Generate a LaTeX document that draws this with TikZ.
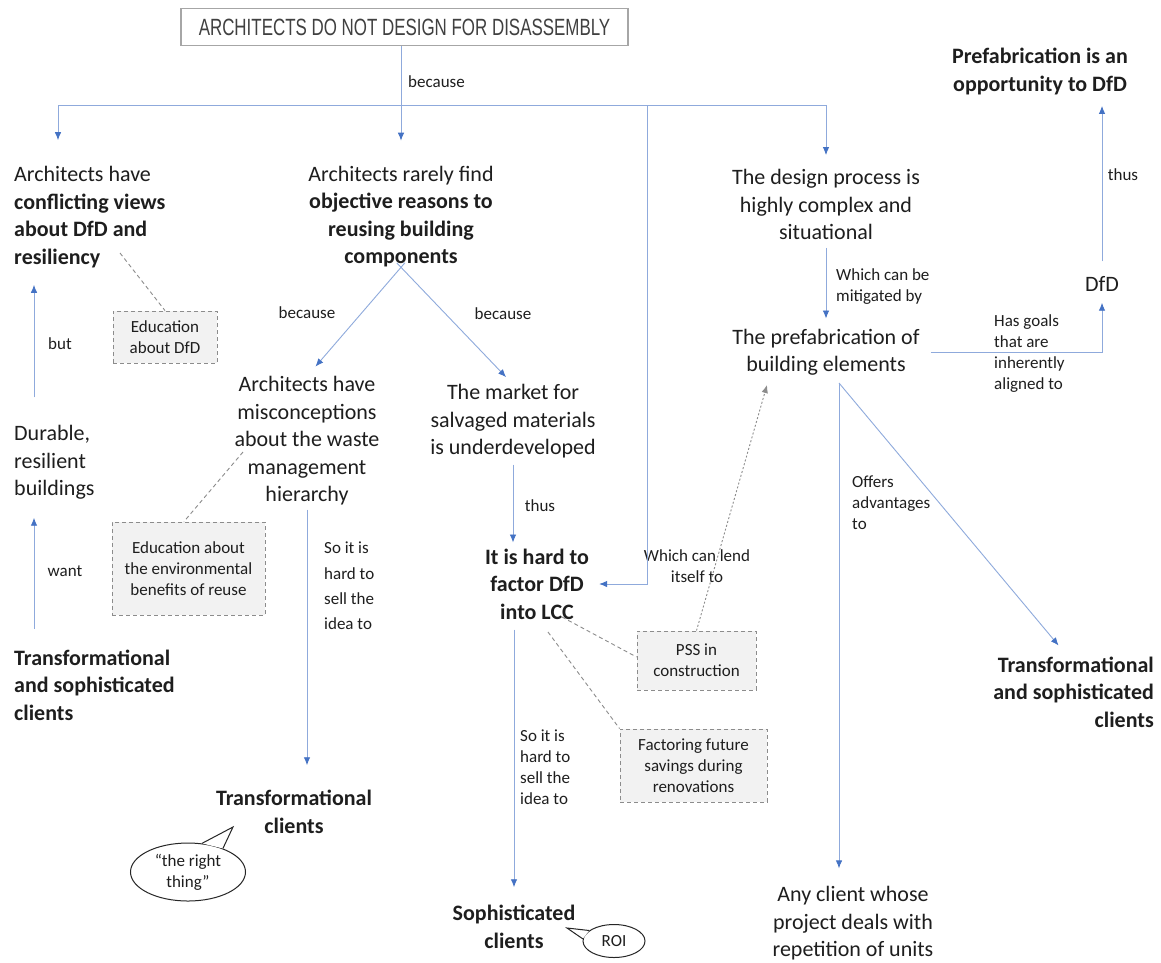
\documentclass[tikz,border=0pt]{standalone}
\usepackage{fontspec}
\setmainfont{Carlito}
\newfontfamily\titlefont[FakeStretch=0.72]{Liberation Sans}
\usetikzlibrary{arrows.meta,shapes.geometric,calc}

\definecolor{lineblue}{HTML}{8FAADC}
\definecolor{tipblue}{HTML}{4472C4}
\definecolor{textc}{HTML}{1E1E1E}
\definecolor{boxgray}{HTML}{8C8C8C}
\definecolor{boxfill}{HTML}{F2F2F2}
\definecolor{framegray}{HTML}{A6A6A6}

\begin{document}
\begin{tikzpicture}[x=1pt,y=-1pt,
  big/.style={font=\fontsize{22}{27.5}\selectfont, inner sep=0pt, align=center, text=textc},
  bigL/.style={big, align=left, anchor=west},
  bigR/.style={big, align=right, anchor=east},
  lab/.style={font=\fontsize{17}{21}\selectfont, inner sep=0pt, align=left, text=textc},
  notebox/.style={draw=boxgray, dash pattern=on 4pt off 3pt, fill=boxfill, line width=0.9pt,
    font=\fontsize{17}{21}\selectfont, align=center, inner sep=0pt, text=textc},
  bubble/.style={ellipse, draw=black!85, line width=1pt, fill=white, inner sep=0pt,
    font=\fontsize{17}{21}\selectfont, align=center, text=textc},
  link/.style={draw=lineblue, line width=0.9pt},
  arr/.style={link, -{Latex[length=8pt,width=6.5pt,color=tipblue]}},
  note/.style={draw=boxgray, line width=0.9pt, dash pattern=on 4pt off 3pt},
  hint/.style={draw=boxgray, line width=0.9pt, dash pattern=on 2pt off 2pt,
    -{Latex[length=8pt,width=6.5pt,color=boxgray]}}
]
\path[use as bounding box, fill=white] (0,0) rectangle (1161,962);

% ---------- heading ----------
\node[draw=framegray, line width=1.2pt, minimum width=447pt, minimum height=37pt, inner sep=0pt,
  font=\titlefont\fontsize{23.5}{26}\selectfont, text=textc!85] (title) at (404.5,27)
  {ARCHITECTS DO NOT DESIGN FOR DISASSEMBLY};

% ---------- main statements ----------
\node[bigL] (conf) at (14,217) {Architects have\\\textbf{conflicting views}\\\textbf{about DfD and}\\\textbf{resiliency}};
\node[big] (rare) at (401,216.5) {Architects rarely find\\\textbf{objective reasons to}\\\textbf{reusing building}\\\textbf{components}};
\node[big] (design) at (826,204.5) {The design process is\\highly complex and\\situational};
\node[bigL] (durable) at (14,462.5) {Durable,\\resilient\\buildings};
\node[bigL, font=\bfseries\fontsize{22}{27.5}\selectfont] (tsc1) at (14,685) {Transformational\\and sophisticated\\clients};
\node[big] (misc) at (307,441) {Architects have\\misconceptions\\about the waste\\management\\hierarchy};
\node[big] (market) at (513,421.5) {The market for\\salvaged materials\\is underdeveloped};
\node[big, font=\bfseries\fontsize{22}{27.5}\selectfont] (lcc) at (537,584) {It is hard to\\factor DfD\\into LCC};
\node[big, font=\bfseries\fontsize{22}{27.5}\selectfont] (tcl) at (294,812) {Transformational\\clients};
\node[big, font=\bfseries\fontsize{22}{27.5}\selectfont] (soph) at (514,927) {Sophisticated\\clients};
\node[big] (prefab) at (826,352) {The prefabrication of\\building elements};
\node[big] (dfd) at (1102,284) {DfD};
\node[big, font=\bfseries\fontsize{22}{27.5}\selectfont] (opp) at (1040,71.5) {Prefabrication is an\\opportunity to DfD};
\node[bigR, font=\bfseries\fontsize{22}{27.5}\selectfont] (tsc2) at (1154,692) {Transformational\\and sophisticated\\clients};
\node[big] (any) at (853,923.5) {Any client whose\\project deals with\\repetition of units};

% ---------- annotation boxes ----------
\node[notebox, minimum width=104pt, minimum height=52pt] (edu1) at (165,337) {Education\\about DfD};
\node[notebox, minimum width=153pt, minimum height=93pt] (edu2) at (188.5,568.5) {Education about\\the environmental\\benefits of reuse};
\node[notebox, minimum width=119pt, minimum height=59pt] (pss) at (696.5,660.5) {PSS in\\construction};
\node[notebox, minimum width=147pt, minimum height=73pt] (fut) at (693.5,765.5) {Factoring future\\savings during\\renovations};

% ---------- speech bubbles ----------
\node[bubble, minimum width=115pt, minimum height=58pt] (bub1) at (188,872) {“the right\\thing”};
\coordinate (tip1) at (233,827);
\fill[white] (bub1.64) -- (tip1) -- (bub1.34) -- cycle;
\draw[black!85, line width=1pt, line join=miter] (bub1.64) -- (tip1) -- (bub1.34);

\node[bubble, minimum width=62pt, minimum height=33pt] (bub2) at (614,941) {ROI};
\coordinate (tip2) at (567,928);
\fill[white] (bub2.157) -- (tip2) -- (bub2.176) -- cycle;
\draw[black!85, line width=1pt, line join=miter] (bub2.157) -- (tip2) -- (bub2.176);

% ---------- connector labels ----------
\node[lab, anchor=west] (lbecause) at (408,82) {because};
\node[lab] (lbut) at (60,344) {but};
\node[lab] (lwant) at (65,571) {want};
\node[lab] (lbc1) at (307,313) {because};
\node[lab] (lbc2) at (503,314) {because};
\node[lab, anchor=west, font=\fontsize{17}{25.3}\selectfont] (lsell1) at (324,586) {So it is\\hard to\\sell the\\idea to};
\node[lab] (lthus1) at (540,506) {thus};
\node[lab, anchor=west] (lsell2) at (520,767.5) {So it is\\hard to\\sell the\\idea to};
\node[lab, align=center] (llend) at (697,566) {Which can lend\\itself to};
\node[lab, anchor=west] (lmit) at (836,287) {Which can be\\mitigated by};
\node[lab, anchor=west] (lgoals) at (994,353.5) {Has goals\\that are\\inherently\\aligned to};
\node[lab] (lthus2) at (1123,175) {thus};
\node[lab, anchor=west] (loffers) at (852,502.5) {Offers\\advantages\\to};

% ---------- junction points ----------
\coordinate (hub) at (401,105);
\coordinate (hl) at (58,105);
\coordinate (hm) at (647,105);
\coordinate (hr) at (826,105);
\coordinate (pf) at (839,383);
\coordinate (resend) at (120,253);
\coordinate (wasteend) at (243,452);
\coordinate (lccA) at (562,617);
\coordinate (lccB) at (548,632);
\coordinate (pfA) at (767,385);

% ---------- blue connectors ----------
\draw[link] (title.south -| hub) -- (hub);
\draw[link] (hl) -- (hr);
\draw[arr, shorten >=26pt] (hl) -- (hl |- conf.north);
\draw[arr, shorten >=25pt] (hub) -- (rare.north);
\draw[arr, shorten >=14pt] (hr) -- (design.north);
\draw[arr, shorten >=10pt] (hm) |- (lcc.east);
\draw[arr, shorten <=-6pt, shorten >=13pt] (rare.south) -- (misc.north);
\draw[arr, shorten <=-6pt, shorten >=10pt] (rare.south) -- (market.north);
\draw[arr, shorten <=4pt, shorten >=25pt] (misc.south) -- (misc.south |- tcl.north);
\draw[arr, shorten <=6pt, shorten >=6pt] (market.south) -- (market.south |- lcc.north);
\draw[arr, shorten <=10pt, shorten >=18pt] (lcc.south -| soph.north) -- (soph.north);
\draw[arr, shorten <=8pt, shorten >=10pt] (design.south) -- (prefab.north);
\draw[arr, shorten <=11pt, shorten >=11pt] (prefab.east) -| (dfd.south);
\draw[arr, shorten <=15pt, shorten >=11pt] (dfd.north) -- (dfd.north |- opp.south);
\draw[arr] (pf) -- ([xshift=-15pt,yshift=11pt]tsc2.north);
\draw[arr, shorten >=18pt] (pf) -- (pf |- any.north);
\draw[arr, shorten <=28pt, shorten >=17pt] ([xshift=20pt]durable.north west) -- ([xshift=20pt]durable.north west |- conf.south);
\draw[arr, shorten <=20.5pt, shorten >=18pt] ([xshift=20pt]tsc1.north west) -- ([xshift=20pt]tsc1.north west |- durable.south);

% ---------- dashed annotation links ----------
\draw[note] (resend) -- (edu1.north);
\draw[note] (wasteend) -- ([xshift=-4.5pt]edu2.north);
\draw[note] (lccA) -- ([yshift=3.5pt]pss.west);
\draw[note] (lccB) -- (fut.north west);
\draw[hint] (pss.north) -- (pfA);
\end{tikzpicture}
\end{document}
